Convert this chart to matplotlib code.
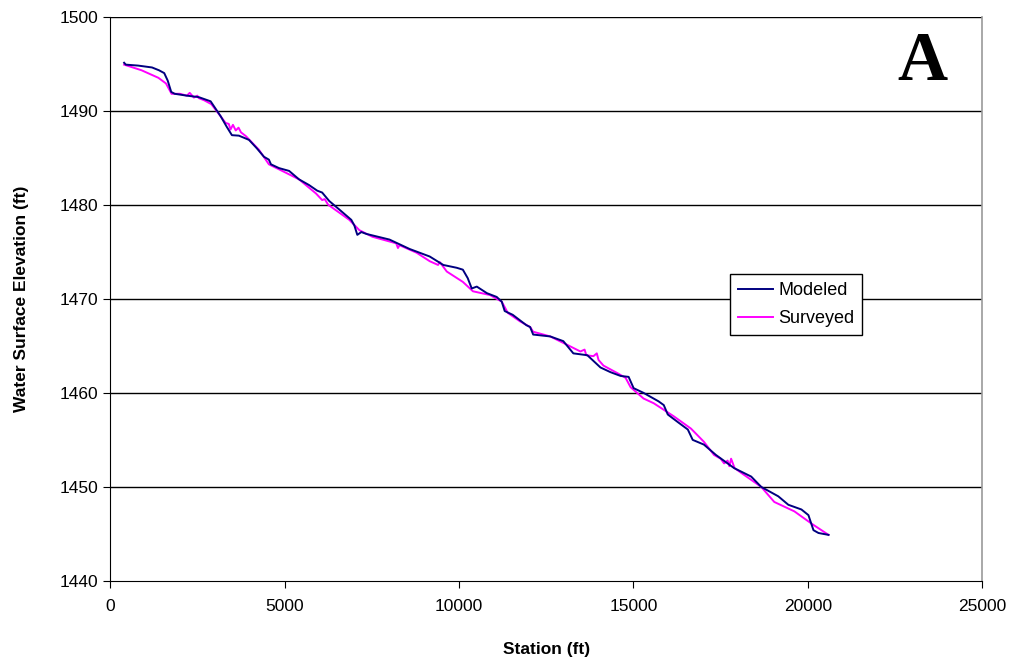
import matplotlib
matplotlib.use("Agg")
import matplotlib.pyplot as plt

mod_station = [400, 450, 800, 1200, 1400, 1550, 1650, 1750, 1850, 2200, 2535, 2880, 3025, 3170,
               3340, 3490, 3690, 3980, 4205, 4410, 4550, 4610, 4840, 5130, 5415, 5700, 5935, 6077,
               6280, 6567, 6912, 7000, 7085, 7200, 7344, 8007, 8583, 9160, 9550, 9935, 10110,
               10250, 10365, 10510, 10800, 11080, 11225, 11310, 11540, 11930, 12039, 12126,
               12615, 12990, 13278, 13680, 14055, 14343, 14631, 14862, 15006, 15290, 15720,
               15870, 15985, 16270, 16560, 16700, 17020, 17365, 17886, 18376, 18664, 19153,
               19441, 19816, 20017, 20161, 20305, 20593]
mod_elev = [1495.1, 1494.9, 1494.8, 1494.6, 1494.3, 1494.0, 1493.2, 1492.0, 1491.8, 1491.6,
            1491.45, 1491.0, 1490.2, 1489.4, 1488.3, 1487.4, 1487.35, 1486.9, 1486.0, 1485.1,
            1484.8, 1484.3, 1483.9, 1483.6, 1482.7, 1482.1, 1481.5, 1481.3, 1480.4, 1479.5,
            1478.4, 1477.8, 1476.8, 1477.1, 1476.9, 1476.3, 1475.3, 1474.5, 1473.6, 1473.3,
            1473.1, 1472.2, 1471.1, 1471.3, 1470.6, 1470.2, 1469.7, 1468.7, 1468.3, 1467.2,
            1467.0, 1466.2, 1466.0, 1465.5, 1464.2, 1464.0, 1462.7, 1462.2, 1461.8, 1461.7,
            1460.5, 1460.0, 1459.1, 1458.7, 1457.7, 1456.9, 1456.1, 1455.0, 1454.5, 1453.4,
            1452.0, 1451.1, 1450.0, 1449.0, 1448.1, 1447.6, 1447.0, 1445.4, 1445.1, 1444.9]

sur_station = [400, 900, 1382, 1600, 1760, 2000, 2200, 2280, 2400, 2500, 2535, 2700, 2900, 3025,
               3310, 3400, 3450, 3520, 3600, 3680, 3750, 3890, 4265, 4550, 5040, 5415, 5900,
               6077, 6150, 6250, 6365, 6855, 7143, 7517, 8200, 8250, 8295, 8785, 9160, 9400,
               9450, 9650, 10110, 10400, 10890, 11225, 11400, 11750, 12040, 12126, 12615,
               13105, 13480, 13600, 13650, 13853, 13950, 14000, 14141, 14540, 14775, 14919,
               15290, 15580, 16160, 16650, 17020, 17310, 17500, 17600, 17700, 17750, 17800,
               17900, 18088, 18664, 19038, 19614, 20104, 20593]
sur_elev = [1494.9, 1494.3, 1493.5, 1492.9, 1491.8, 1491.8, 1491.6, 1491.9, 1491.4, 1491.6,
            1491.35, 1491.1, 1490.7, 1490.1, 1488.7, 1488.6, 1488.0, 1488.5, 1487.9, 1488.2,
            1487.7, 1487.3, 1485.85, 1484.3, 1483.4, 1482.7, 1481.2, 1480.5, 1480.6, 1480.0,
            1479.7, 1478.4, 1477.3, 1476.6, 1475.9, 1475.4, 1475.7, 1474.9, 1474.0, 1473.6,
            1473.9, 1472.9, 1471.8, 1470.8, 1470.4, 1469.7, 1468.5, 1467.6, 1467.0, 1466.5,
            1466.0, 1465.1, 1464.4, 1464.6, 1464.0, 1463.9, 1464.2, 1463.5, 1462.9, 1462.1,
            1461.6, 1460.6, 1459.4, 1458.9, 1457.5, 1456.2, 1454.8, 1453.4, 1453.0, 1452.5,
            1452.8, 1452.2, 1453.0, 1452.0, 1451.5, 1450.0, 1448.4, 1447.4, 1446.1, 1444.9]

x_ticks = [0, 5000, 10000, 15000, 20000, 25000]
y_ticks = [1440, 1450, 1460, 1470, 1480, 1490, 1500]

plt.rcParams['font.family'] = ['Liberation Sans', 'DejaVu Sans']

fig = plt.figure(figsize=(10.2, 6.67), dpi=100)
ax = fig.add_axes([0.108, 0.129, 0.855, 0.846])

for y in y_ticks[1:]:
    ax.axhline(y, color='black', lw=1.0, zorder=1)

ax.plot(mod_station, mod_elev, color='#000080', lw=1.4, label='Modeled', zorder=3)
ax.plot(sur_station, sur_elev, color='#FF00FF', lw=1.4, label='Surveyed', zorder=2)

ax.set_xlim(0, 25000)
ax.set_ylim(1440, 1500)
ax.set_xticks(x_ticks)
ax.set_yticks(y_ticks)
ax.tick_params(axis='both', labelsize=12.5, direction='out', length=5, color='black')
ax.tick_params(axis='x', pad=8)
ax.spines['top'].set_visible(False)
ax.spines['right'].set_color('#999999')
ax.spines['right'].set_linewidth(1.2)
ax.spines['left'].set_color('black')
ax.spines['bottom'].set_color('black')

ax.set_xlabel('Station (ft)', fontsize=12.5, fontweight='bold', labelpad=20)
ax.set_ylabel('Water Surface Elevation (ft)', fontsize=12.5, fontweight='bold', labelpad=22)

ax.text(23280, 1495.1, 'A', fontsize=50, fontweight='bold', family='Liberation Serif',
        ha='center', va='center')

leg = ax.legend(loc='upper left', bbox_to_anchor=(0.711, 0.544), fontsize=13,
                frameon=True, fancybox=False, edgecolor='black', framealpha=1,
                handlelength=1.9, handletextpad=0.3, borderpad=0.45, labelspacing=0.6,
                borderaxespad=0.0)
leg.get_frame().set_linewidth(1.0)

fig.savefig('out.png', dpi=100)
